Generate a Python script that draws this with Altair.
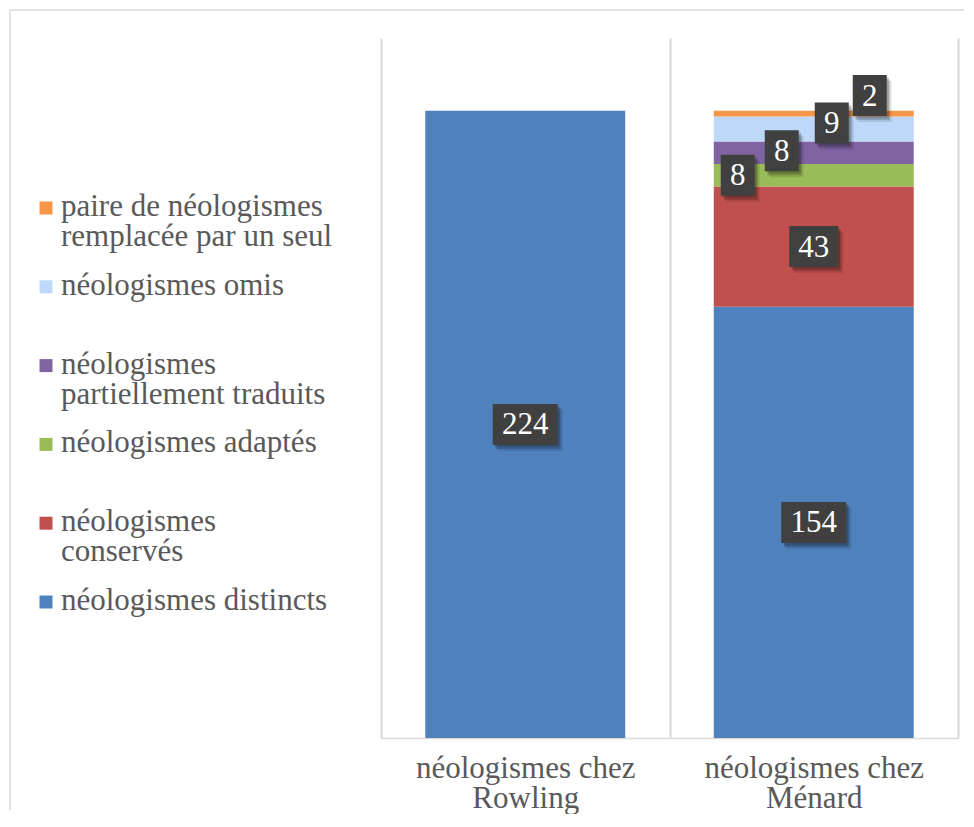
import altair as alt
import pandas as pd

# ---------------- data ----------------
categories = ["néologismes chez Rowling", "néologismes chez Ménard"]
series = [
    "néologismes distincts",
    "néologismes conservés",
    "néologismes adaptés",
    "néologismes partiellement traduits",
    "néologismes omis",
    "paire de néologismes remplacée par un seul",
]
legend_text = [
    "néologismes distincts",
    "néologismes\nconservés",
    "néologismes adaptés",
    "néologismes\npartiellement traduits",
    "néologismes omis",
    "paire de néologismes\nremplacée par un seul",
]
rowling_values = [224, 0, 0, 0, 0, 0]
menard_values = [154, 43, 8, 8, 9, 2]
colors = ["#4f81bd", "#c0504d", "#9bbb59", "#8064a2", "#bdd8f8", "#f79646"]

# ---------------- styles ----------------
SERIF = "Liberation Serif"
GREY_TXT = "#595959"
GRID = "#d9d9d9"
BOX = "#404040"
# callout offsets (px) per series index
label_offsets = {0: (0, 0), 1: (0, 0), 2: (-76, 0), 3: (-32, -2), 4: (18, -6), 5: (56, -18)}
box_w = {1: 34, 2: 49, 3: 65}
box_h = 41

rows = []
for cat, vals in zip(categories, [rowling_values, menard_values]):
    for k, (s, v) in enumerate(zip(series, vals)):
        rows.append({"cat": cat, "series": s, "k": k, "value": v})
df = pd.DataFrame(rows)

YS = alt.Scale(domain=[0, 250], nice=False, zero=True)
label_expr = ("[substring(datum.label, 0, indexof(datum.label, ' chez') + 5), "
              "substring(datum.label, indexof(datum.label, ' chez') + 6)]")
X = alt.X(
    "cat:N",
    sort=categories,
    scale=alt.Scale(domain=categories, paddingInner=0, paddingOuter=0),
    axis=alt.Axis(
        title=None, labelAngle=0, labelFont=SERIF, labelFontSize=31,
        labelColor=GREY_TXT, labelLineHeight=30, labelPadding=15,
        labelExpr=label_expr, labelLimit=0,
        domainColor=GRID, domainWidth=1.5, ticks=False,
        grid=True, gridColor=GRID, gridWidth=2, tickBand="extent",
    ),
)

base = (
    alt.Chart(df)
    .transform_filter("datum.value > 0")
    .transform_stack(stack="value", groupby=["cat"],
                     sort=[alt.SortField("k", order="ascending")], as_=["y0", "y1"])
    .transform_calculate(mid="(datum.y0 + datum.y1) / 2")
)

bars = base.mark_bar(width=alt.RelativeBandSize(0.693)).encode(
    x=X,
    y=alt.Y("y0:Q", scale=YS, axis=None),
    y2="y1:Q",
    color=alt.Color("series:N", scale=alt.Scale(domain=series, range=colors), legend=None),
)

layers = [bars]
for k, s in enumerate(series):
    vals = [v for v, kk in zip(df["value"], df["k"]) if kk == k and v > 0]
    if not vals:
        continue
    nd = max(len(str(v)) for v in vals)
    w = box_w[nd]
    path = f"M{-w/2},{-box_h/2}H{w/2}V{box_h/2}H{-w/2}Z"
    dx, dy = label_offsets[k]
    sub = base.transform_filter(f"datum.k == {k}")
    enc = dict(x=X, y=alt.Y("mid:Q", scale=YS, axis=None))
    for sx, sy, op in [(5, 6, 0.10), (3, 4, 0.18), (2, 2, 0.15)]:
        layers.append(sub.mark_point(shape=path, size=4, filled=True, fill="#000000",
                                     opacity=op, strokeWidth=0,
                                     xOffset=dx + sx, yOffset=dy + sy).encode(**enc))
    layers.append(sub.mark_point(shape=path, size=4, filled=True, fill=BOX, opacity=1,
                                 strokeWidth=0, xOffset=dx, yOffset=dy).encode(**enc))
    layers.append(sub.mark_text(font=SERIF, fontSize=31, color="white", align="center",
                                baseline="middle", xOffset=dx, yOffset=dy + 1)
                  .encode(text="value:Q", **enc))

main = alt.layer(*layers).properties(width=577, height=700)

# ---------------- legend panel ----------------
leg_df = pd.DataFrame({"series": series, "label": legend_text})
LY = alt.Scale(domain=series[::-1], range=[170, 564], type="point", padding=0)
leg_sq = alt.Chart(leg_df).mark_square(size=169, opacity=1).encode(
    x=alt.value(37),
    y=alt.Y("series:N", scale=LY, axis=None),
    color=alt.Color("series:N", scale=alt.Scale(domain=series, range=colors), legend=None),
)
leg_tx = alt.Chart(leg_df).mark_text(
    font=SERIF, fontSize=31, color=GREY_TXT, align="left", baseline="alphabetic",
    dy=8, lineBreak="\n", lineHeight=30,
).encode(
    x=alt.value(52),
    y=alt.Y("series:N", scale=LY, axis=None),
    text="label:N",
)
one = pd.DataFrame({"a": [0]})
border_left = alt.Chart(one).mark_rule(color=GRID, strokeWidth=1.5).encode(
    x=alt.value(1), y=alt.value(-28), y2=alt.value(772))
border_top = alt.Chart(one).mark_rule(color=GRID, strokeWidth=1.5).encode(
    x=alt.value(1), x2=alt.value(955), y=alt.value(-28))

legend_panel = alt.layer(border_left, border_top, leg_sq, leg_tx).properties(width=372, height=700)

chart = (
    alt.hconcat(legend_panel, main, spacing=0, bounds="flush")
    .properties(padding={"left": 0, "top": 0, "right": 0, "bottom": 0}, background="white")
    .configure_view(stroke="transparent")
)

chart.save("out.html", embed_options={"renderer": "svg", "actions": False})
